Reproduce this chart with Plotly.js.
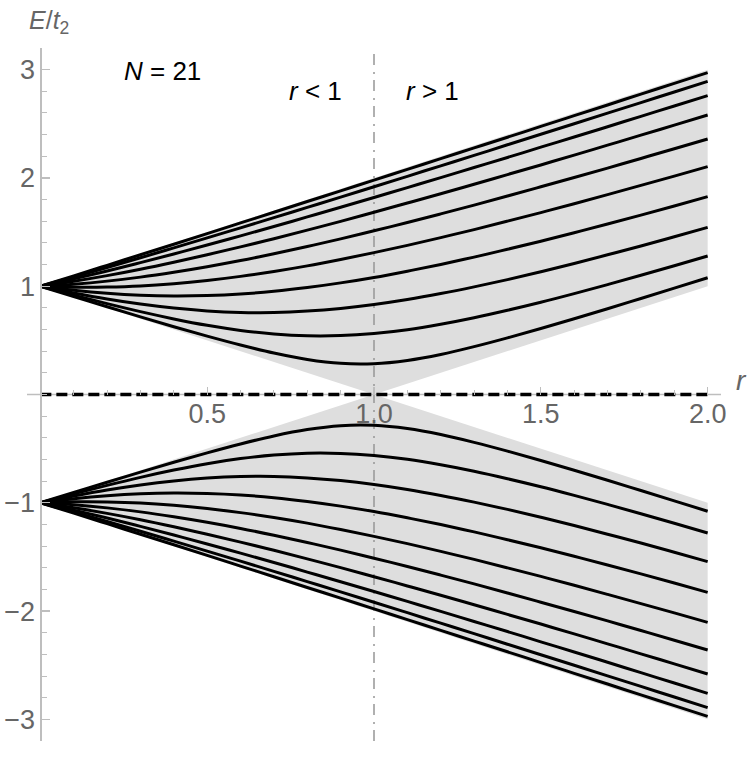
<!DOCTYPE html>
<html>
<head>
<meta charset="utf-8">
<script src="https://cdn.plot.ly/plotly-3.0.1.min.js"></script>
<style>
  html, body { margin: 0; padding: 0; background: #ffffff; }
  #chart { width: 749px; height: 768px; }
</style>
</head>
<body>
<div id="chart"></div>
<script>
// ---- data ----
const rValues = [0, 0.1, 0.2, 0.3, 0.4, 0.5, 0.6, 0.7, 0.8, 0.9, 1.0, 1.1, 1.2, 1.3, 1.4, 1.5, 1.6, 1.7, 1.8, 1.9, 2.0];

// upper band levels E/t2 (top to bottom)
const upper01 = [1, 1.096, 1.193, 1.291, 1.388, 1.486, 1.585, 1.683, 1.782, 1.881, 1.980, 2.079, 2.178, 2.277, 2.376, 2.476, 2.575, 2.674, 2.774, 2.873, 2.973];
const upper02 = [1, 1.085, 1.173, 1.263, 1.354, 1.446, 1.539, 1.633, 1.728, 1.823, 1.919, 2.015, 2.112, 2.208, 2.306, 2.403, 2.500, 2.598, 2.696, 2.794, 2.892];
const upper03 = [1, 1.068, 1.141, 1.218, 1.298, 1.380, 1.465, 1.551, 1.640, 1.729, 1.819, 1.911, 2.003, 2.096, 2.189, 2.284, 2.378, 2.473, 2.569, 2.664, 2.760];
const upper04 = [1, 1.046, 1.098, 1.157, 1.222, 1.291, 1.363, 1.439, 1.518, 1.599, 1.683, 1.768, 1.854, 1.942, 2.031, 2.120, 2.211, 2.303, 2.395, 2.488, 2.581];
const upper05 = [1, 1.019, 1.047, 1.084, 1.129, 1.180, 1.237, 1.300, 1.367, 1.437, 1.512, 1.588, 1.668, 1.749, 1.833, 1.918, 2.004, 2.091, 2.180, 2.270, 2.360];
const upper06 = [1, 0.991, 0.992, 1.002, 1.023, 1.053, 1.091, 1.136, 1.188, 1.247, 1.310, 1.377, 1.449, 1.523, 1.601, 1.680, 1.762, 1.846, 1.931, 2.017, 2.105];
const upper07 = [1, 0.963, 0.935, 0.917, 0.910, 0.914, 0.928, 0.953, 0.988, 1.031, 1.081, 1.139, 1.201, 1.269, 1.341, 1.416, 1.494, 1.574, 1.657, 1.741, 1.827];
const upper08 = [1, 0.938, 0.882, 0.835, 0.798, 0.772, 0.758, 0.757, 0.770, 0.795, 0.831, 0.877, 0.932, 0.994, 1.061, 1.134, 1.210, 1.290, 1.372, 1.457, 1.543];
const upper09 = [1, 0.918, 0.839, 0.765, 0.698, 0.639, 0.592, 0.559, 0.542, 0.544, 0.564, 0.599, 0.649, 0.709, 0.778, 0.852, 0.932, 1.015, 1.101, 1.189, 1.279];
const upper10 = [1, 0.905, 0.810, 0.717, 0.626, 0.539, 0.457, 0.383, 0.324, 0.288, 0.285, 0.315, 0.370, 0.442, 0.523, 0.610, 0.700, 0.792, 0.887, 0.982, 1.078];

// lower band levels E/t2 (top to bottom)
const lower01 = [-1, -0.905, -0.810, -0.717, -0.626, -0.539, -0.457, -0.383, -0.324, -0.288, -0.285, -0.315, -0.370, -0.442, -0.523, -0.610, -0.700, -0.792, -0.887, -0.982, -1.078];
const lower02 = [-1, -0.918, -0.839, -0.765, -0.698, -0.639, -0.592, -0.559, -0.542, -0.544, -0.564, -0.599, -0.649, -0.709, -0.778, -0.852, -0.932, -1.015, -1.101, -1.189, -1.279];
const lower03 = [-1, -0.938, -0.882, -0.835, -0.798, -0.772, -0.758, -0.757, -0.770, -0.795, -0.831, -0.877, -0.932, -0.994, -1.061, -1.134, -1.210, -1.290, -1.372, -1.457, -1.543];
const lower04 = [-1, -0.963, -0.935, -0.917, -0.910, -0.914, -0.928, -0.953, -0.988, -1.031, -1.081, -1.139, -1.201, -1.269, -1.341, -1.416, -1.494, -1.574, -1.657, -1.741, -1.827];
const lower05 = [-1, -0.991, -0.992, -1.002, -1.023, -1.053, -1.091, -1.136, -1.188, -1.247, -1.310, -1.377, -1.449, -1.523, -1.601, -1.680, -1.762, -1.846, -1.931, -2.017, -2.105];
const lower06 = [-1, -1.019, -1.047, -1.084, -1.129, -1.180, -1.237, -1.300, -1.367, -1.437, -1.512, -1.588, -1.668, -1.749, -1.833, -1.918, -2.004, -2.091, -2.180, -2.270, -2.360];
const lower07 = [-1, -1.046, -1.098, -1.157, -1.222, -1.291, -1.363, -1.439, -1.518, -1.599, -1.683, -1.768, -1.854, -1.942, -2.031, -2.120, -2.211, -2.303, -2.395, -2.488, -2.581];
const lower08 = [-1, -1.068, -1.141, -1.218, -1.298, -1.380, -1.465, -1.551, -1.640, -1.729, -1.819, -1.911, -2.003, -2.096, -2.189, -2.284, -2.378, -2.473, -2.569, -2.664, -2.760];
const lower09 = [-1, -1.085, -1.173, -1.263, -1.354, -1.446, -1.539, -1.633, -1.728, -1.823, -1.919, -2.015, -2.112, -2.208, -2.306, -2.403, -2.500, -2.598, -2.696, -2.794, -2.892];
const lower10 = [-1, -1.096, -1.193, -1.291, -1.388, -1.486, -1.585, -1.683, -1.782, -1.881, -1.980, -2.079, -2.178, -2.277, -2.376, -2.476, -2.575, -2.674, -2.774, -2.873, -2.973];

// zero-energy mode
const zeroModeR = [0, 2];
const zeroModeE = [0, 0];

// shaded band edges
const bandEdgeR = [0, 1, 2];
const upperBandOuter = [1, 2, 3];
const upperBandInner = [1, 0, 1];
const lowerBandOuter = [-1, -2, -3];
const lowerBandInner = [-1, 0, -1];

// critical line
const criticalR = 1;
const criticalSpan = [-3.2, 3.2];

// tick labels
const xTickVals = [0.5, 1.0, 1.5, 2.0];
const xTickText = ['0.5', '1.0', '1.5', '2.0'];
const yTickVals = [-3, -2, -1, 1, 2, 3];

// ---- traces ----
const FONT = 'Liberation Sans, Arial, sans-serif';
const fillGray = 'rgb(222,222,222)';
const traces = [];

function bandPolygon(outer, inner) {
  const xs = bandEdgeR.concat(bandEdgeR.slice().reverse());
  const ys = outer.concat(inner.slice().reverse());
  return {x: xs, y: ys};
}
[[upperBandOuter, upperBandInner], [lowerBandOuter, lowerBandInner]].forEach(function (p) {
  const poly = bandPolygon(p[0], p[1]);
  traces.push({
    type: 'scatter', mode: 'lines', x: poly.x, y: poly.y,
    fill: 'toself', fillcolor: fillGray, line: {width: 0, color: fillGray},
    hoverinfo: 'skip', showlegend: false
  });
});

traces.push({
  type: 'scatter', mode: 'lines',
  x: [criticalR, criticalR], y: criticalSpan,
  line: {color: 'rgb(150,150,150)', width: 1.5, dash: '11px,6px,2px,7px'},
  hoverinfo: 'skip', showlegend: false
});

const levels = [upper01, upper02, upper03, upper04, upper05, upper06, upper07, upper08, upper09, upper10,
                lower01, lower02, lower03, lower04, lower05, lower06, lower07, lower08, lower09, lower10];
levels.forEach(function (ys) {
  traces.push({
    type: 'scatter', mode: 'lines', x: rValues, y: ys,
    line: {color: '#000000', width: 3, shape: 'spline', smoothing: 1},
    hoverinfo: 'skip', showlegend: false
  });
});

traces.push({
  type: 'scatter', mode: 'lines', x: zeroModeR, y: zeroModeE,
  line: {color: '#000000', width: 3.5, dash: '11px,5px'},
  hoverinfo: 'skip', showlegend: false
});

// ---- layout ----
const xRange = [-0.04, 2.04];
const yRange = [-3.2, 3.2];
const axisGray = 'rgb(190,190,190)';
const labelGray = 'rgb(102,102,102)';

const layout = {
  width: 749, height: 768,
  margin: {l: 27, r: 28, t: 48, b: 27, pad: 0},
  paper_bgcolor: '#ffffff', plot_bgcolor: '#ffffff',
  showlegend: false,
  font: {family: FONT, size: 26, color: labelGray},
  xaxis: {
    range: xRange, anchor: 'free', position: (0 - yRange[0]) / (yRange[1] - yRange[0]),
    showgrid: false, zeroline: false, showline: false,
    layer: 'above traces',
    ticks: 'inside', ticklen: 8, tickwidth: 1.2, tickcolor: axisGray,
    tickmode: 'array', tickvals: xTickVals, ticktext: xTickText,
    tickfont: {family: FONT, size: 27, color: labelGray},
    minor: {tickmode: 'linear', tick0: 0, dtick: 0.1, ticks: 'inside', ticklen: 5, tickwidth: 1, tickcolor: axisGray},
    automargin: false, fixedrange: true
  },
  yaxis: {
    range: yRange, anchor: 'free', position: (0 - xRange[0]) / (xRange[1] - xRange[0]),
    showgrid: false, zeroline: false, showline: true, linecolor: axisGray, linewidth: 1.3,
    layer: 'above traces',
    ticks: 'inside', ticklen: 8, tickwidth: 1.2, tickcolor: axisGray,
    tickmode: 'array', tickvals: yTickVals,
    tickfont: {family: FONT, size: 27, color: labelGray},
    minor: {tickmode: 'linear', tick0: 0, dtick: 0.2, ticks: 'inside', ticklen: 5, tickwidth: 1, tickcolor: axisGray},
    automargin: false, fixedrange: true
  },
  shapes: [
    // horizontal axis line, kept beneath the zero-mode dashes
    {type: 'line', xref: 'paper', yref: 'y', x0: 0, x1: 1, y0: 0, y1: 0,
     line: {color: axisGray, width: 1.3}, layer: 'below'}
  ],
  annotations: [
    {text: '<i>E</i>/<i>t</i><sub>2</sub>', xref: 'paper', yref: 'paper', x: 0.0, y: 1.037,
     xanchor: 'left', yanchor: 'middle', showarrow: false,
     font: {family: FONT, size: 25, color: labelGray}},
    {text: '<i>r</i>', xref: 'paper', yref: 'paper', x: 1.019, y: 0.52,
     xanchor: 'left', yanchor: 'middle', showarrow: false,
     font: {family: FONT, size: 28, color: labelGray}},
    {text: '<i>N</i> = 21', xref: 'x', yref: 'y', x: 0.365, y: 2.99,
     xanchor: 'center', yanchor: 'middle', showarrow: false,
     font: {family: FONT, size: 26, color: '#000000'}},
    {text: '<i>r</i> < 1', xref: 'x', yref: 'y', x: 0.826, y: 2.80,
     xanchor: 'center', yanchor: 'middle', showarrow: false,
     font: {family: FONT, size: 26, color: '#000000'}},
    {text: '<i>r</i> > 1', xref: 'x', yref: 'y', x: 1.174, y: 2.80,
     xanchor: 'center', yanchor: 'middle', showarrow: false,
     font: {family: FONT, size: 26, color: '#000000'}}
  ]
};

Plotly.newPlot('chart', traces, layout, {displayModeBar: false, staticPlot: true});
</script>
</body>
</html>
